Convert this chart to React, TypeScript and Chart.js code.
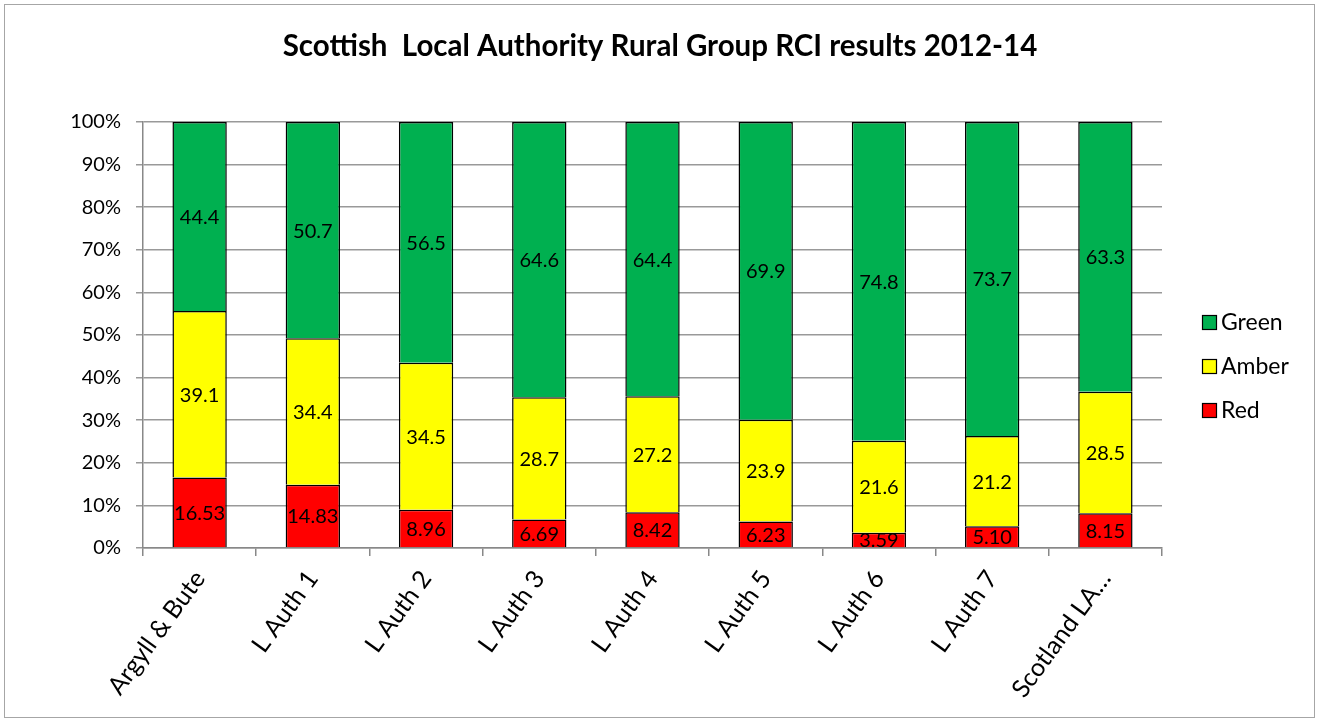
import React, { useEffect, useRef } from "react";
import { Chart, registerables } from "chart.js";

Chart.register(...registerables);

const categories = [
  "Argyll & Bute",
  "L Auth 1",
  "L Auth 2",
  "L Auth 3",
  "L Auth 4",
  "L Auth 5",
  "L Auth 6",
  "L Auth 7",
  "Scotland LA…",
];
const redValues = [16.53, 14.83, 8.96, 6.69, 8.42, 6.23, 3.59, 5.1, 8.15];
const amberValues = [39.1, 34.4, 34.5, 28.7, 27.2, 23.9, 21.6, 21.2, 28.5];
const greenValues = [44.4, 50.7, 56.5, 64.6, 64.4, 69.9, 74.8, 73.7, 63.3];
const yTicks = [0, 10, 20, 30, 40, 50, 60, 70, 80, 90, 100];
const titleText = "Scottish  Local Authority Rural Group RCI results 2012-14";

const FONT = "Lato, 'Open Sans', sans-serif";

const totals = categories.map((_, i) => redValues[i] + amberValues[i] + greenValues[i]);
const pct = (arr: number[]) => arr.map((v, i) => (v / totals[i]) * 100);

export default function App() {
  const ref = useRef<HTMLCanvasElement | null>(null);
  useEffect(() => {
    if (!ref.current) return;
    const raw = [redValues, amberValues, greenValues];
    const decimals = [2, 1, 1];

    const framePlugin = {
      id: "frame",
      beforeDraw(chart: any) {
        const ctx = chart.ctx;
        ctx.save();
        ctx.fillStyle = "#fff";
        ctx.fillRect(0, 0, chart.width, chart.height);
        ctx.strokeStyle = "#a6a6a6";
        ctx.lineWidth = 1;
        ctx.strokeRect(4.5, 4.5, chart.width - 9, chart.height - 9);
        ctx.fillStyle = "#000";
        ctx.font = `bold 29.5px ${FONT}`;
        ctx.textAlign = "center";
        ctx.textBaseline = "middle";
        ctx.fillText(titleText, 660, 46);
        ctx.restore();
      },
    };

    const labelPlugin = {
      id: "barLabels",
      afterDatasetsDraw(chart: any) {
        const ctx = chart.ctx;
        ctx.save();
        ctx.fillStyle = "#000";
        ctx.font = `20px ${FONT}`;
        ctx.textAlign = "center";
        ctx.textBaseline = "middle";
        chart.data.datasets.forEach((ds: any, di: number) => {
          const meta = chart.getDatasetMeta(di);
          meta.data.forEach((el: any, i: number) => {
            const y = (el.y + el.base) / 2;
            ctx.fillText(raw[di][i].toFixed(decimals[di]), el.x, y + 1);
          });
        });
        // legend (reversed order)
        const items = [2, 1, 0];
        const lx = 1202;
        items.forEach((di, k) => {
          const ds = chart.data.datasets[di];
          const cy = 322 + k * 44;
          ctx.fillStyle = ds.backgroundColor;
          ctx.fillRect(lx, cy - 7, 15, 15);
          ctx.strokeStyle = "#000";
          ctx.lineWidth = 1.2;
          ctx.strokeRect(lx + 0.5, cy - 6.5, 14, 14);
          ctx.fillStyle = "#000";
          ctx.font = `23px ${FONT}`;
          ctx.textAlign = "left";
          ctx.fillText(ds.label, 1221, cy + 1);
        });
        ctx.restore();
      },
    };

    const common = {
      borderColor: "#000",
      borderWidth: 1.5,
      barPercentage: 0.48,
      categoryPercentage: 1,
    };

    const chart = new Chart(ref.current, {
      type: "bar",
      data: {
        labels: categories,
        datasets: [
          { label: "Red", data: pct(redValues), backgroundColor: "#ff0000", ...common },
          { label: "Amber", data: pct(amberValues), backgroundColor: "#ffff00", ...common },
          { label: "Green", data: pct(greenValues), backgroundColor: "#00b050", ...common },
        ],
      },
      options: {
        animation: false,
        responsive: false,
        maintainAspectRatio: false,
        layout: { padding: { top: 122, right: 157, left: 0, bottom: 0 } },
        plugins: {
          legend: { display: false },
          title: { display: false },
          tooltip: { enabled: false },
        },
        scales: {
          x: {
            stacked: true,
            grid: {
              offset: true,
              drawOnChartArea: false,
              drawTicks: true,
              tickLength: 8,
              color: "#888",
              lineWidth: 1.5,
            },
            border: { color: "#888", width: 1.5 },
            ticks: {
              minRotation: 54,
              maxRotation: 54,
              autoSkip: false,
              color: "#000",
              font: { size: 25, family: FONT },
              padding: 9,
            },
            afterFit(scale: any) {
              scale.height = 722 - 548;
            },
          },
          y: {
            stacked: true,
            min: 0,
            max: 100,
            afterBuildTicks(scale: any) {
              scale.ticks = yTicks.map((v) => ({ value: v }));
            },
            ticks: {
              color: "#000",
              font: { size: 20, family: FONT },
              callback: (v: any) => `${v}%`,
              padding: 15,
            },
            grid: { color: "#999", lineWidth: 1.5, tickLength: 7 },
            border: { color: "#888", width: 1.5 },
            afterFit(scale: any) {
              scale.width = 143;
            },
          },
        },
      },
      plugins: [framePlugin, labelPlugin],
    });
    return () => chart.destroy();
  }, []);

  return (
    <div style={{ position: "fixed", left: 0, top: 0, width: 1319, height: 722 }}>
      <canvas ref={ref} width={1319} height={722} style={{ display: "block" }} />
    </div>
  );
}
